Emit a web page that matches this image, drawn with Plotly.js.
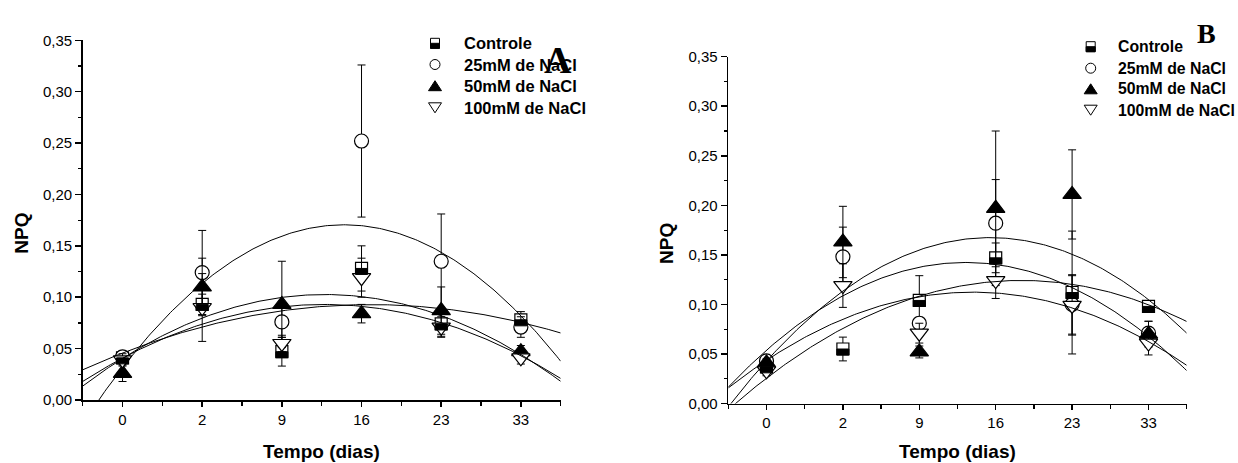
<!DOCTYPE html>
<html>
<head>
<meta charset="utf-8">
<script src="https://cdn.plot.ly/plotly-3.0.1.min.js"></script>
<style>
  html, body { margin: 0; padding: 0; background: #fff; }
  #chart { width: 1238px; height: 463px; }
</style>
</head>
<body>
<div id="chart"></div>
<script>
// Dias de coleta (eixo categórico) e nomes dos tratamentos
const dias = ['0', '2', '9', '16', '23', '33'];
const tratamentos = ['Controle', '25mM de NaCl', '50mM de NaCl', '100mM de NaCl'];

// Painel A: NPQ médio e desvio
const controleA    = [0.041, 0.093, 0.047, 0.128, 0.074, 0.078];
const controleAErr = [0.005, 0.010, 0.014, 0.022, 0.012, 0.008];
const nacl25A      = [0.042, 0.124, 0.076, 0.252, 0.135, 0.071];
const nacl25AErr   = [0.006, 0.041, 0.015, 0.074, 0.046, 0.010];
const nacl50A      = [0.026, 0.110, 0.093, 0.084, 0.087, 0.047];
const nacl50AErr   = [0.008, 0.028, 0.042, 0.009, 0.023, 0.006];
const nacl100A     = [0.039, 0.090, 0.055, 0.119, 0.071, 0.041];
const nacl100AErr  = [0.006, 0.033, 0.008, 0.019, 0.010, 0.006];

// Painel B: NPQ médio e desvio
const controleB    = [0.037, 0.055, 0.104, 0.147, 0.112, 0.098];
const controleBErr = [0.004, 0.012, 0.025, 0.015, 0.062, 0.004];
const nacl25B      = [0.043, 0.148, 0.081, 0.182, 0.100, 0.071];
const nacl25BErr   = [0.005, 0.030, 0.006, 0.044, 0.030, 0.012];
const nacl50B      = [0.041, 0.163, 0.052, 0.197, 0.211, 0.070];
const nacl50BErr   = [0.004, 0.036, 0.006, 0.078, 0.045, 0.013];
const nacl100B     = [0.033, 0.119, 0.071, 0.124, 0.099, 0.061];
const nacl100BErr  = [0.005, 0.022, 0.010, 0.018, 0.030, 0.012];

const W = 1238, H = 463;
const px = p => p / W;          // pixel -> paper x
const py = p => 1 - p / H;      // pixel -> paper y

const pos = dias.map((_, i) => i);
const FONT = 'Liberation Sans, Arial, sans-serif';

// Least-squares quadratic fit y = a + b x + c x^2
function quadFit(xs, ys) {
  let S = [0, 0, 0, 0, 0], T = [0, 0, 0];
  xs.forEach((x, i) => {
    for (let k = 0; k < 5; k++) S[k] += Math.pow(x, k);
    for (let k = 0; k < 3; k++) T[k] += Math.pow(x, k) * ys[i];
  });
  const M = [[S[0], S[1], S[2], T[0]], [S[1], S[2], S[3], T[1]], [S[2], S[3], S[4], T[2]]];
  for (let i = 0; i < 3; i++) {
    for (let j = i + 1; j < 3; j++) {
      const f = M[j][i] / M[i][i];
      for (let k = i; k < 4; k++) M[j][k] -= f * M[i][k];
    }
  }
  const c = [0, 0, 0];
  for (let i = 2; i >= 0; i--) {
    let s = M[i][3];
    for (let k = i + 1; k < 3; k++) s -= M[i][k] * c[k];
    c[i] = s / M[i][i];
  }
  return c;
}

const styles = [
  { symbol: 'square',        size: 12, color: '#ffffff' },
  { symbol: 'circle',        size: 14, color: '#ffffff' },
  { symbol: 'triangle-up',   size: 16, color: '#000000' },
  { symbol: 'triangle-down', size: 16, color: '#ffffff' }
];

const panels = [
  { xa: 'x',  ya: 'y',  vals: [controleA, nacl25A, nacl50A, nacl100A],
    errs: [controleAErr, nacl25AErr, nacl50AErr, nacl100AErr] },
  { xa: 'x2', ya: 'y2', vals: [controleB, nacl25B, nacl50B, nacl100B],
    errs: [controleBErr, nacl25BErr, nacl50BErr, nacl100BErr] }
];

const traces = [];
const shapes = [];

panels.forEach(p => {
  p.vals.forEach((v, s) => {
    traces.push({
      type: 'scatter', mode: 'markers', x: pos, y: v,
      xaxis: p.xa, yaxis: p.ya, name: tratamentos[s], showlegend: false,
      marker: { symbol: styles[s].symbol, size: styles[s].size, color: styles[s].color,
                line: { color: '#000', width: 1.2 } },
      error_y: { type: 'data', array: p.errs[s], visible: true, color: '#000',
                 thickness: 1, width: 4 },
      cliponaxis: false
    });
  });
  // fitted quadratic curves
  p.vals.forEach((v, s) => {
    const c = quadFit(pos, v);
    const fx = [], fy = [];
    for (let k = 0; k <= 240; k++) {
      const x = -0.5 + k * 0.025;
      fx.push(x);
      fy.push(c[0] + c[1] * x + c[2] * x * x);
    }
    traces.push({
      type: 'scatter', mode: 'lines', x: fx, y: fy, xaxis: p.xa, yaxis: p.ya,
      showlegend: false, hoverinfo: 'skip',
      line: { color: '#000', width: 1 }
    });
  });
  // lower half filled on the Controle squares
  p.vals[0].forEach((v, i) => {
    shapes.push({
      type: 'rect', xref: p.xa, yref: p.ya, xsizemode: 'pixel', ysizemode: 'pixel',
      xanchor: pos[i], yanchor: v, x0: -6, x1: 6, y0: -6, y1: 0,
      fillcolor: '#000', line: { color: '#000', width: 1 }, layer: 'above'
    });
  });
});

// Legend built from shapes + annotations
const annotations = [];
function legend(symX, textX, rowsY, fontSize) {
  rowsY.forEach((yy, s) => {
    const base = { xref: 'paper', yref: 'paper', xsizemode: 'pixel', ysizemode: 'pixel',
                   xanchor: px(symX), yanchor: py(yy), layer: 'above' };
    if (s === 0) {
      shapes.push(Object.assign({}, base, { type: 'rect', x0: -4.5, x1: 4.5, y0: -5, y1: 5,
        fillcolor: '#fff', line: { color: '#000', width: 1 } }));
      shapes.push(Object.assign({}, base, { type: 'rect', x0: -4.5, x1: 4.5, y0: -5, y1: 0,
        fillcolor: '#000', line: { color: '#000', width: 1 } }));
    } else if (s === 1) {
      shapes.push(Object.assign({}, base, { type: 'circle', x0: -5, x1: 5, y0: -5, y1: 5,
        fillcolor: '#fff', line: { color: '#000', width: 1 } }));
    } else if (s === 2) {
      shapes.push(Object.assign({}, base, { type: 'path', path: 'M -6.5 -5 L 6.5 -5 L 0 5 Z',
        fillcolor: '#000', line: { color: '#000', width: 1 } }));
    } else {
      shapes.push(Object.assign({}, base, { type: 'path', path: 'M -6.5 5 L 6.5 5 L 0 -5 Z',
        fillcolor: '#fff', line: { color: '#000', width: 1 } }));
    }
    annotations.push({
      xref: 'paper', yref: 'paper', x: px(textX), y: py(yy), xanchor: 'left', yanchor: 'middle',
      text: tratamentos[s], showarrow: false,
      font: { family: FONT, size: fontSize, weight: 'bold', color: '#000' }
    });
  });
}
legend(435, 462, [43.3, 64.5, 85.7, 107.8], 16.5);
legend(1090.7, 1116, [46.7, 68.2, 88.8, 110.2], 15.8);

// Axis titles and panel letters
const titleFont = { family: FONT, size: 19, weight: 'bold', color: '#000' };
annotations.push(
  { xref: 'paper', yref: 'paper', x: px(21.7), y: py(233), text: 'NPQ', textangle: -90,
    showarrow: false, font: titleFont, xanchor: 'center', yanchor: 'middle' },
  { xref: 'paper', yref: 'paper', x: px(321.7), y: py(451), text: 'Tempo (dias)',
    showarrow: false, font: titleFont, xanchor: 'center', yanchor: 'middle' },
  { xref: 'paper', yref: 'paper', x: px(666.7), y: py(243.3), text: 'NPQ', textangle: -90,
    showarrow: false, font: titleFont, xanchor: 'center', yanchor: 'middle' },
  { xref: 'paper', yref: 'paper', x: px(957.5), y: py(451.5), text: 'Tempo (dias)',
    showarrow: false, font: titleFont, xanchor: 'center', yanchor: 'middle' },
  { xref: 'paper', yref: 'paper', x: px(558), y: py(60), text: 'A', showarrow: false,
    font: { family: 'Liberation Serif, Times New Roman, serif', size: 38, weight: 'bold', color: '#000' },
    xanchor: 'center', yanchor: 'middle' },
  { xref: 'paper', yref: 'paper', x: px(1206), y: py(34), text: 'B', showarrow: false,
    font: { family: 'Liberation Serif, Times New Roman, serif', size: 28, weight: 'bold', color: '#000' },
    xanchor: 'center', yanchor: 'middle' }
);

function xAxis(domain, anchor) {
  return {
    domain: domain, anchor: anchor, range: [-0.5, 5.5],
    tickmode: 'array', tickvals: pos, ticktext: dias,
    ticks: 'outside', ticklen: 5, tickwidth: 1.5, tickcolor: '#000',
    minor: { ticks: 'outside', tickmode: 'linear', tick0: -0.5, dtick: 0.5,
             ticklen: 4, tickwidth: 1.2, tickcolor: '#000', showgrid: false },
    showline: true, linecolor: '#000', linewidth: 1.6, mirror: false,
    showgrid: false, zeroline: false, automargin: false,
    tickfont: { family: FONT, size: 15, color: '#000' }
  };
}
function yAxis(domain, anchor) {
  return {
    domain: domain, anchor: anchor, range: [0, 0.35],
    tickmode: 'linear', tick0: 0, dtick: 0.05, tickformat: '.2f',
    ticks: 'outside', ticklen: 6, tickwidth: 1.5, tickcolor: '#000',
    minor: { ticks: 'outside', tickmode: 'linear', tick0: 0, dtick: 0.025,
             ticklen: 3, tickwidth: 1.2, tickcolor: '#000', showgrid: false },
    showline: true, linecolor: '#000', linewidth: 1.6, mirror: false,
    showgrid: false, zeroline: false, automargin: false,
    tickfont: { family: FONT, size: 15, color: '#000' }
  };
}

const layout = {
  width: W, height: H,
  margin: { l: 0, r: 0, t: 0, b: 0 },
  paper_bgcolor: '#fff', plot_bgcolor: '#fff',
  separators: ',.',
  showlegend: false,
  xaxis:  xAxis([px(82.7), px(560.7)], 'y'),
  yaxis:  yAxis([py(400), py(40.3)], 'x'),
  xaxis2: xAxis([px(728.3), px(1186.7)], 'y2'),
  yaxis2: yAxis([py(403.5), py(56.7)], 'x2'),
  shapes: shapes,
  annotations: annotations
};

Plotly.newPlot('chart', traces, layout, { staticPlot: true, displayModeBar: false });
</script>
</body>
</html>
